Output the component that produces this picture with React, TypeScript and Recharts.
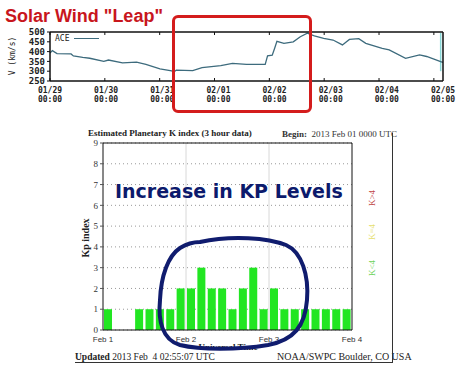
import {
  LineChart,
  Line,
  BarChart,
  Bar,
  XAxis,
  YAxis,
  CartesianGrid,
  ReferenceLine,
} from 'recharts'

// solar wind speed (ACE), hours since 01/29 00:00
const windHours = [0, 1, 3, 9, 10, 14, 17, 23, 25, 31, 37, 41, 47, 52, 53, 54, 61, 65, 73, 78, 84, 92, 93, 95, 96, 97, 100, 104, 107, 110, 113, 117, 121, 125, 128, 132, 135, 142, 145, 152, 158, 161, 167, 168]
const windSpeed = [392, 405, 390, 388, 378, 370, 366, 350, 357, 342, 346, 335, 312, 302, 297, 305, 303, 318, 328, 340, 335, 335, 378, 382, 416, 452, 442, 450, 476, 494, 480, 468, 459, 434, 462, 466, 442, 416, 409, 366, 383, 375, 349, 345]
const dayTicks = [0, 24, 48, 72, 96, 120, 144, 168]
const dayLabels = ['01/29', '01/30', '01/31', '02/01', '02/02', '02/03', '02/04', '02/05']
const sixHourTicks = Array.from({ length: 29 }, (_, i) => i * 6)
const speedTicks = [250, 300, 350, 400, 450, 500]

// Kp index, 3-hour slots from Feb 1 00:00
const kpValues = [1, 0, 0, 1, 1, 1, 1, 2, 2, 3, 2, 2, 1, 2, 3, 1, 2, 1, 1, 1, 1, 1, 1, 1]
const kpTicks = [0, 1, 2, 3, 4, 5, 6, 7, 8, 9]
const feTicks = [0, 8, 16, 24]
const febLabels = ['Feb 1', 'Feb 2', 'Feb 3', 'Feb 4']

const windData = windHours.map((h, i) => ({ h, v: windSpeed[i] }))
const kpData = kpValues.map((kp, i) => ({ slot: i + 0.5, kp }))

const mono = '"DejaVu Sans Mono", monospace'
const serif = '"Liberation Serif", serif'

function DayTick({ x, y, payload }: any) {
  const i = dayTicks.indexOf(payload.value)
  return (
    <text x={x} y={y} textAnchor="middle" fontSize={8} fontFamily={mono} fontWeight="bold" fill="#222">
      <tspan x={x} dy={4}>{dayLabels[i]}</tspan>
      <tspan x={x} dy={8.5}>00:00</tspan>
    </text>
  )
}

const abs = (s: React.CSSProperties): React.CSSProperties => ({ position: 'absolute', margin: 0, whiteSpace: 'nowrap', ...s })

export default function App() {
  return (
    <div style={abs({ left: 0, top: 0, width: 462, height: 381, background: '#fff', overflow: 'hidden' })}>
      {/* solar wind panel */}
      <div style={abs({ left: 0, top: 0 })}>
        <LineChart width={462} height={110} data={windData} margin={{ top: 32, right: 19, bottom: 0, left: 0 }}>
          <XAxis
            dataKey="h"
            type="number"
            domain={[0, 168]}
            ticks={dayTicks}
            tick={<DayTick />}
            tickLine={false}
            axisLine={{ stroke: '#111', strokeWidth: 1.5 }}
            height={29}
            interval={0}
          />
          <XAxis xAxisId="bm" type="number" domain={[0, 168]} ticks={sixHourTicks} mirror tickSize={3} tickFormatter={() => ''} tickLine={{ stroke: '#111' }} axisLine={false} interval={0} />
          <XAxis xAxisId="top" orientation="top" type="number" domain={[0, 168]} ticks={sixHourTicks} mirror tickSize={3} tickFormatter={() => ''} tickLine={{ stroke: '#111' }} axisLine={{ stroke: '#111', strokeWidth: 1.5 }} interval={0} />
          <YAxis
            domain={[250, 500]}
            ticks={speedTicks}
            width={50}
            tickSize={3}
            tickMargin={2}
            interval={0}
            axisLine={{ stroke: '#111', strokeWidth: 1.5 }}
            tickLine={{ stroke: '#111' }}
            tick={{ fontSize: 9, fontFamily: mono, fontWeight: 'bold', fill: '#222' }}
          />
          <YAxis yAxisId="r" orientation="right" domain={[250, 500]} ticks={speedTicks} mirror tickSize={3} tickFormatter={() => ''} tickLine={{ stroke: '#111' }} axisLine={{ stroke: '#111', strokeWidth: 1.5 }} interval={0} />
          <ReferenceLine segment={[{ x: 167, y: 300 }, { x: 167, y: 495 }]} stroke="#8ad8d8" strokeWidth={1.5} />
          <Line dataKey="v" name="ACE" type="linear" stroke="#3d6b7d" strokeWidth={1.3} dot={false} isAnimationActive={false} />
        </LineChart>
      </div>
      {/* series key */}
      <div style={abs({ left: 55, top: 34, display: 'flex', alignItems: 'center', font: `8px ${mono}`, lineHeight: '9px', color: '#222' })}>
        <span>ACE</span>
        <span style={{ display: 'block', width: 25, height: 0, borderTop: '1.5px solid #3d6b7d', marginLeft: 5 }} />
      </div>
      <div style={abs({ left: 12, top: 56, transform: 'translate(-50%, -50%) rotate(-90deg)', font: `8px ${mono}`, lineHeight: '9px', color: '#222' })}>
        V (km/s)
      </div>
      <div style={abs({ left: 5, top: 7, font: `bold 18px "Liberation Sans", Arial, sans-serif`, lineHeight: '18px', color: '#c8161d' })}>
        Solar Wind "Leap"
      </div>
      <div style={abs({ left: 172, top: 15, width: 134, height: 92, border: '3px solid #d41c1c', borderRadius: 6 })} />

      {/* Kp panel */}
      <div style={abs({ left: 0, top: 120 })}>
        <BarChart width={462} height={240} data={kpData} margin={{ top: 23, right: 110, bottom: 0, left: 83 }}>
          <CartesianGrid vertical={false} stroke="#999" strokeDasharray="1 3" />
          <XAxis
            dataKey="slot"
            type="number"
            domain={[0, 24]}
            ticks={feTicks}
            interval={0}
            tickFormatter={(v: number) => febLabels[feTicks.indexOf(v)]}
            tickLine={false}
            tickSize={0}
            tickMargin={6}
            axisLine={{ stroke: '#111' }}
            tick={{ fontSize: 8, fontFamily: '"Liberation Sans", sans-serif', fill: '#333' }}
            height={30}
          />
          <XAxis xAxisId="top" orientation="top" type="number" domain={[0, 24]} ticks={feTicks} mirror tickLine={false} tickFormatter={() => ''} axisLine={{ stroke: '#111' }} />
          <YAxis
            domain={[0, 9]}
            ticks={kpTicks}
            interval={0}
            width={20}
            tickSize={3}
            tickMargin={2}
            axisLine={{ stroke: '#111' }}
            tickLine={{ stroke: '#555' }}
            tick={{ fontSize: 9, fontFamily: serif, fill: '#333' }}
          />
          <YAxis yAxisId="r" orientation="right" domain={[0, 9]} ticks={kpTicks} interval={0} mirror tickSize={3} tickFormatter={() => ''} tickLine={{ stroke: '#555' }} axisLine={{ stroke: '#111' }} />
          <ReferenceLine x={8} stroke="#d8d8d8" />
          <ReferenceLine x={16} stroke="#d8d8d8" />
          <Bar dataKey="kp" fill="#22e622" barSize={8} isAnimationActive={false} />
        </BarChart>
      </div>

      <div style={abs({ left: 88, top: 128, font: `bold 9px ${serif}`, lineHeight: '10px', color: '#222' })}>
        Estimated Planetary K index (3 hour data)
      </div>
      <div style={abs({ left: 282, top: 129, font: `9px ${serif}`, lineHeight: '10px', color: '#333' })}>
        <b>Begin:</b>&nbsp; 2013 Feb 01 0000 UTC
      </div>
      <div style={abs({ left: 86, top: 238, transform: 'translate(-50%, -50%) rotate(-90deg)', font: `bold 10px ${serif}`, lineHeight: '10px', color: '#222' })}>
        Kp index
      </div>
      <div style={abs({ left: 228, top: 342, transform: 'translateX(-50%)', font: `bold 9px ${serif}`, lineHeight: '10px', color: '#222' })}>
        Universal Time
      </div>
      <div style={abs({ left: 75, top: 352, font: `9.5px ${serif}`, lineHeight: '10px', color: '#222' })}>
        <b>Updated</b> 2013 Feb&nbsp; 4 02:55:07 UTC
      </div>
      <div style={abs({ left: 277, top: 352, font: `10px ${serif}`, lineHeight: '10px', color: '#222' })}>
        NOAA/SWPC Boulder, CO USA
      </div>
      <div style={abs({ left: 75, top: 362, width: 318, height: 0, borderTop: '1px solid #333' })} />
      <div style={abs({ left: 392, top: 133, width: 0, height: 230, borderLeft: '1px solid #333' })} />

      {['K>4', 'K=4', 'K<4'].map((t, i) => (
        <div
          key={t}
          style={abs({
            left: 372,
            top: [198, 232, 268][i],
            transform: 'translate(-50%, -50%) rotate(-90deg)',
            font: `9px ${serif}`,
            lineHeight: '10px',
            color: ['#c04545', '#e6e070', '#6ed25a'][i],
          })}
        >
          {t}
        </div>
      ))}

      <div style={abs({ left: 115, top: 181, font: `bold 19px "DejaVu Sans", sans-serif`, lineHeight: '20px', color: '#0c1a6c' })}>
        Increase in KP Levels
      </div>
      <svg width={462} height={381} style={abs({ left: 0, top: 0, pointerEvents: 'none' })}>
        <path
          d="M200,242 C232,235 268,238 286,245 C302,252 309,276 307,300 C305,326 294,340 268,345 C238,350 200,350 180,345 C162,340 158,320 160,300 C161,276 168,256 180,248 C188,243 195,242 200,242 Z"
          fill="none"
          stroke="#101c6e"
          strokeWidth={4}
        />
      </svg>
    </div>
  )
}
